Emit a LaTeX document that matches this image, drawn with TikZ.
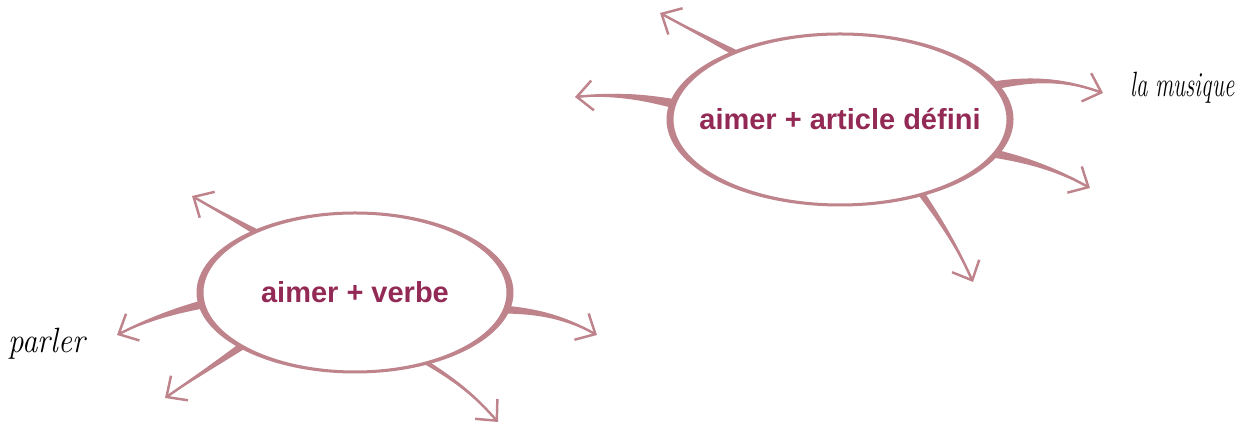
\documentclass[tikz,border=0pt]{standalone}
\usepackage{fontspec}
\usepackage{tikz}
\usetikzlibrary{arrows.meta,shapes.geometric}
\newfontfamily\arialfont{Liberation Sans}
\definecolor{rimpink}{RGB}{191,131,140}
\definecolor{plum}{RGB}{147,42,85}

\begin{document}
\begin{tikzpicture}[
  bubble/.style={ellipse, inner sep=0pt, outer sep=0pt},
  rim/.style={fill=rimpink, even odd rule},
  caption/.style={font=\arialfont\bfseries\fontsize{16.5}{19}\selectfont, text=plum, anchor=base},
  limb/.style={fill=rimpink},
  stalk/.style={draw=rimpink, line width=1.4pt, -{Straight Barb[length=9pt,width=17pt]}},
  hand/.style={font=\itshape\fontsize{20}{22}\selectfont, inner sep=0pt, anchor=base west}
]
  \useasboundingbox (0,0) rectangle (24.92,8.5);

  % Bubble 1: aimer + article defini
  \node[bubble, minimum width=6.8cm, minimum height=3.42cm] (defini) at (16.8,6.11) {};
  \coordinate (d1) at (13.2,8.24);
  \coordinate (d2) at (11.5,6.56);
  \coordinate (d3) at (22.06,6.64);
  \coordinate (d4) at (21.8,4.74);
  \coordinate (d5) at (19.46,2.86);

  \fill[limb] (defini.146.5) to (d1) to (defini.149.5) -- cycle;
  \draw[stalk] (defini.148) to (d1);
  \fill[limb] (defini.173) to[bend right=8] (d2) to[bend left=8] (defini.176) -- cycle;
  \draw[stalk] (defini.174.5) to[bend right=8] (d2);
  \fill[limb] (defini.11.5) to[bend left=14] (d3) to[bend right=14] (defini.14.5) -- cycle;
  \draw[stalk] (defini.13) to[bend left=14] (d3);
  \fill[limb] (defini.346.5) to[bend left=8] (d4) to[bend right=8] (defini.349.5) -- cycle;
  \draw[stalk] (defini.348) to[bend left=8] (d4);
  \fill[limb] (defini.316.5) to[bend left=5] (d5) to[bend right=5] (defini.319.5) -- cycle;
  \draw[stalk] (defini.318) to[bend left=5] (d5);

  \fill[rim] (defini.center) ellipse [x radius=3.47cm, y radius=1.74cm]
             (defini.center) ellipse [x radius=3.33cm, y radius=1.68cm];
  \node[caption] (defini-text) at ([yshift=-0.21cm]defini.center) {aimer + article défini};

  % Bubble 2: aimer + verbe
  \node[bubble, minimum width=6.2cm, minimum height=3.18cm] (verbe) at (7.1,2.65) {};
  \coordinate (v1) at (3.84,4.58);
  \coordinate (v2) at (2.34,1.8);
  \coordinate (v3) at (3.3,0.54);
  \coordinate (v4) at (11.94,1.8);
  \coordinate (v5) at (9.96,0.06);

  \fill[limb] (verbe.147.5) to (v1) to (verbe.150.5) -- cycle;
  \draw[stalk] (verbe.149) to (v1);
  \fill[limb] (verbe.183) to[bend right=6] (v2) to[bend left=6] (verbe.186) -- cycle;
  \draw[stalk] (verbe.184.5) to[bend right=6] (v2);
  \fill[limb] (verbe.204) to (v3) to (verbe.207) -- cycle;
  \draw[stalk] (verbe.205.5) to (v3);
  \fill[limb] (verbe.352.5) to[bend left=12] (v4) to[bend right=12] (verbe.355.5) -- cycle;
  \draw[stalk] (verbe.354) to[bend left=12] (v4);
  \fill[limb] (verbe.314.5) to[bend left=8] (v5) to[bend right=8] (verbe.317.5) -- cycle;
  \draw[stalk] (verbe.316) to[bend left=8] (v5);

  \fill[rim] (verbe.center) ellipse [x radius=3.17cm, y radius=1.62cm]
             (verbe.center) ellipse [x radius=3.03cm, y radius=1.56cm];
  \node[caption] (verbe-text) at ([yshift=-0.21cm]verbe.center) {aimer + verbe};

  % handwritten answers
  \node[hand] (musique) at (22.6,6.56) {\scalebox{0.65}[1]{la musique}};
  \node[hand] (parler) at (0.16,1.44) {\scalebox{0.88}[1]{parler}};
\end{tikzpicture}
\end{document}
